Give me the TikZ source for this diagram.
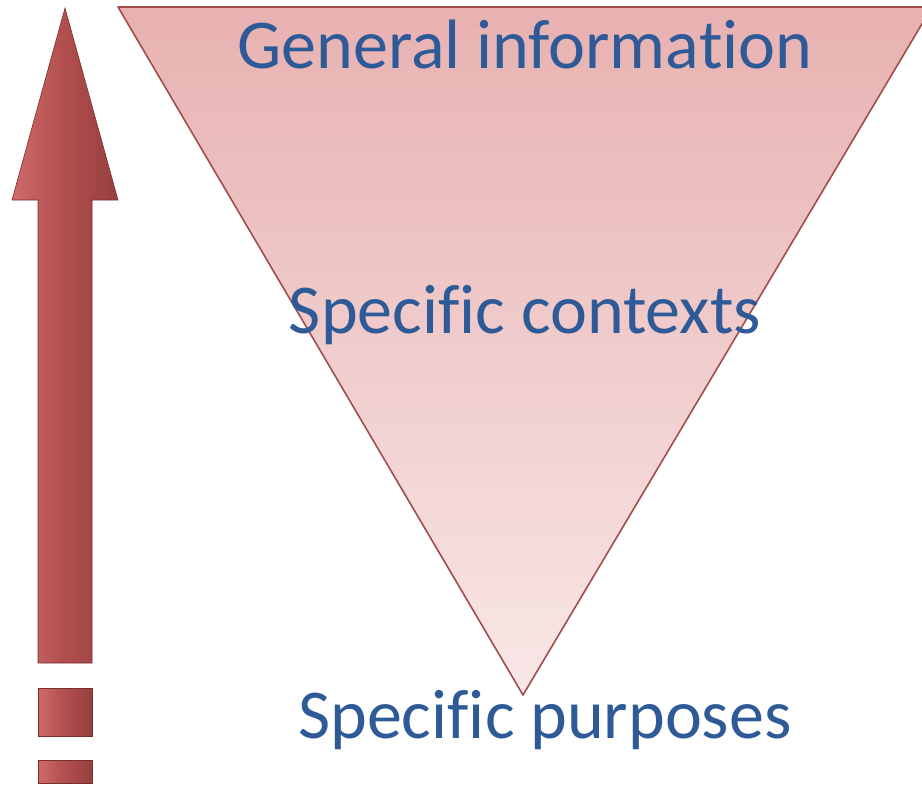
\documentclass[tikz,border=0pt]{standalone}
\usepackage{fontspec}
\setmainfont{Carlito}[Ligatures={NoCommon,NoRare,NoContextual}]
\definecolor{txtblue}{HTML}{2E5A98}
\definecolor{triline}{HTML}{A04E4C}
\definecolor{tritop}{HTML}{E8B1B1}
\definecolor{tribot}{HTML}{F9E7E7}
\definecolor{arrL}{HTML}{D06A6A}
\definecolor{arrM}{HTML}{B04E4E}
\definecolor{arrR}{HTML}{963F3F}
\definecolor{arredge}{HTML}{7A2E2E}
\tikzset{
  lbl/.style={anchor=base, text=txtblue, font=\fontsize{70}{84}\selectfont, inner sep=0pt},
  arrowpart/.style={left color=arrL, right color=arrR, middle color=arrM, draw=arredge, line width=0.6pt, line join=miter},
}
\begin{document}
\begin{tikzpicture}[x=1pt,y=-1pt]
\useasboundingbox (0,0) rectangle (922,785);
\clip (0,0) rectangle (922,785);
% inverted triangle
\coordinate (tl) at (118,7);
\coordinate (tr) at (932,7);
\coordinate (ap) at (523,695);
\shade[top color=tritop, bottom color=tribot] (tl) -- (tr) -- (ap) -- cycle;
\draw[triline, line width=1.6pt, line join=round] (tl) -- (tr) -- (ap) -- cycle;
% labels
\node[lbl] (gen) at (525,68) {General informa\kern0pt tion};
\node[lbl] (ctx) at (525,333) {Speci\kern0pt f\kern0pt ic contexts};
\node[lbl] (pur) at (545,738) {Speci\kern0pt f\kern0pt ic purposes};
% arrow
\path[arrowpart] (65,8) -- (118,200) -- (92,200) -- (92,663) -- (38,663) -- (38,200) -- (12,200) -- cycle;
\path[arrowpart] (38,688) rectangle (92,736);
\path[arrowpart] (38,760) rectangle (92,783);
\end{tikzpicture}
\end{document}
